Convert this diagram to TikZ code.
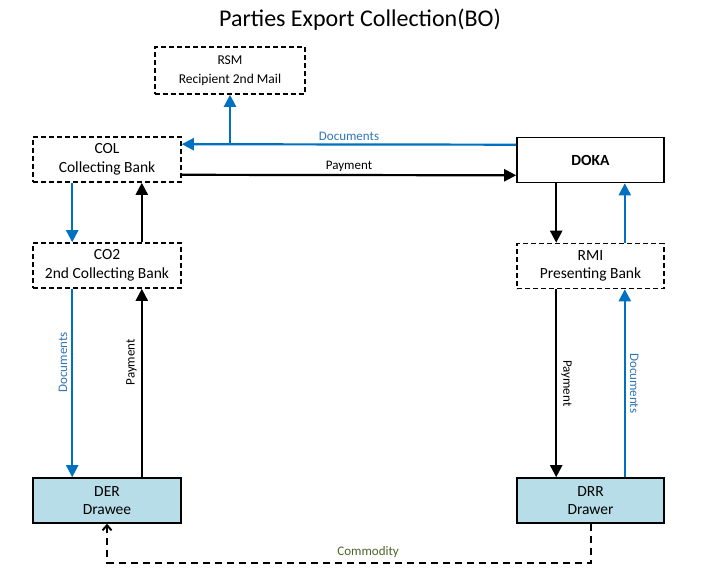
\documentclass[tikz,border=0pt]{standalone}
\usepackage{fontspec}
\setmainfont{Carlito}
\usetikzlibrary{arrows.meta}
\definecolor{docblue}{HTML}{0070C0}
\definecolor{doctext}{HTML}{2E75B6}
\definecolor{drawfill}{HTML}{B7DDE8}
\definecolor{goodsgreen}{HTML}{4F6228}

\begin{document}
\begin{tikzpicture}[x=1pt, y=-1pt, >={Triangle[length=12pt,width=12pt]},
    party/.style={draw, line width=1.6pt, dash pattern=on 5pt off 3pt,
        minimum width=148pt, minimum height=45pt, inner sep=0pt, align=center,
        font=\fontsize{15.5}{18.5}\selectfont},
    bank/.style={party, solid},
    client/.style={party, solid, fill=drawfill},
    docs/.style={->, draw=docblue, line width=2.2pt},
    pay/.style={->, black, line width=2.2pt},
    lbl/.style={font=\fontsize{13}{15}\selectfont, inner sep=2.5pt},
    vlabel/.style={lbl, anchor=south, inner sep=4pt},
    goods/.style={line width=2pt, dash pattern=on 7pt off 5pt,
        -{Straight Barb[length=5pt,width=9pt]}}]
    \useasboundingbox (0,0) rectangle (719,585);

    \node[font=\fontsize{24}{28}\selectfont] (title) at (360,20) {Parties Export Collection(BO)};

    \node[party, minimum width=150pt, minimum height=47pt,
          font=\fontsize{13.5}{19}\selectfont] (rsm) at (230,70.5) {RSM\\Recipient 2nd Mail};
    \node[party] (col) at (107,159.5) {COL\\Collecting Bank};
    \node[party] (co2) at (107,265.5) {CO2\\2nd Collecting Bank};
    \node[bank, minimum width=147pt] (doka) at (590.5,160) {\textbf{DOKA}};
    \node[party, minimum width=147pt] (rmi) at (590.5,266) {RMI\\Presenting Bank};
    \node[client] (der) at (107,500.5) {DER\\Drawee};
    \node[client, minimum width=147pt] (drr) at (590.5,500.5) {DRR\\Drawer};

    \coordinate (docrow) at ([yshift=-8pt]col.north east);
    \draw[docs] ([yshift=-8pt]doka.north west) -- node[above, lbl, text=doctext] {Documents} (docrow);
    \draw[docs] (rsm.south |- docrow) -- (rsm.south);
    \draw[pay] ([yshift=8pt]col.south east) -- node[above, lbl] {Payment} ([yshift=8pt]doka.south west);

    \draw[docs] ([xshift=40pt]col.south west) -- ([xshift=40pt]co2.north west);
    \draw[pay] ([xshift=-40pt]co2.north east) -- ([xshift=-40pt]col.south east);
    \draw[docs] ([xshift=40pt]co2.south west) -- node[pos=.39, vlabel, rotate=90, text=doctext] {Documents} ([xshift=40pt]der.north west);
    \draw[pay] ([xshift=-40pt]der.north east) -- node[pos=.61, vlabel, rotate=90] {Payment} ([xshift=-40pt]co2.south east);

    \draw[pay] ([xshift=40pt]doka.south west) -- ([xshift=40pt]rmi.north west);
    \draw[docs] ([xshift=-40pt]rmi.north east) -- ([xshift=-40pt]doka.south east);
    \draw[pay] ([xshift=40pt]rmi.south west) -- node[midway, vlabel, rotate=-90] {Payment} ([xshift=40pt]drr.north west);
    \draw[docs] ([xshift=-40pt]drr.north east) -- node[midway, vlabel, rotate=-90, text=doctext] {Documents} ([xshift=-40pt]rmi.south east);

    \draw[goods] (drr.south) -- ++(0,39) -| node[pos=.23, above, lbl, inner sep=4pt, text=goodsgreen] {Commodity} (der.south);
\end{tikzpicture}
\end{document}
